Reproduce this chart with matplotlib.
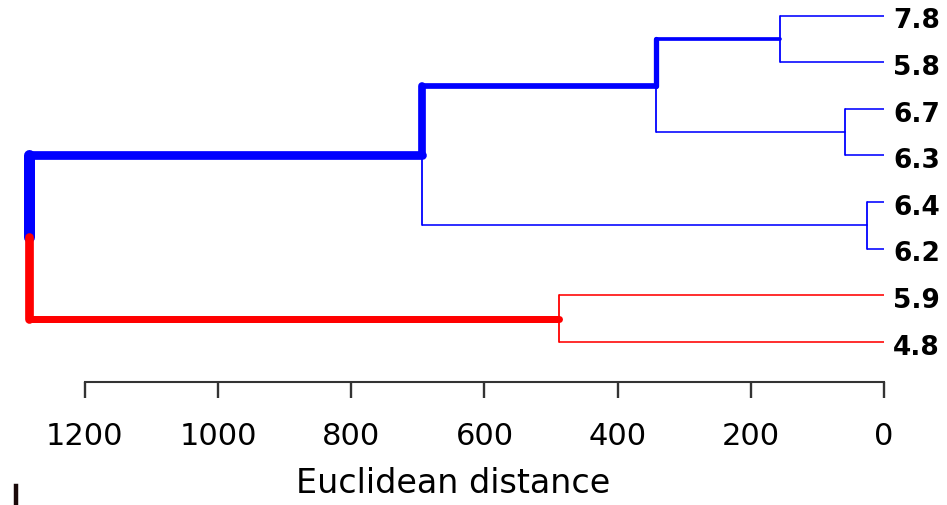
import matplotlib
matplotlib.use('Agg')
import matplotlib.pyplot as plt
from matplotlib.lines import Line2D

plt.rcParams['font.family'] = 'DejaVu Sans'

# leaves, top to bottom
leaf_labels = ['7.8', '5.8', '6.7', '6.3', '6.4', '6.2', '5.9', '4.8']

# R-style merge table: negative = leaf (1-based), positive = earlier merge
merge_left = [-1, -3, -5, 1, 4, -7, 5]
merge_right = [-2, -4, -6, 2, 3, -8, 6]
merge_height = [156, 58, 26, 343, 694, 488, 1284]

xticks = [0, 200, 400, 600, 800, 1000, 1200]
xlabel = 'Euclidean distance'

# cluster colours: every edge below these merges gets the colour
cluster_colour = {5: '#0000ff', 6: '#ff0000'}

# highlighted edges (child merge -> (vertical px, horizontal px))
px = 0.72
thick = {5: (11, 8.7), 6: (8.7, 7.0), 4: (7.7, 5.7), 1: (5.3, 3.7)}
thin = (1.8, 1.6)

# ---------- node positions ----------
node_x = {}
node_y = {}
for i in range(len(leaf_labels)):
    node_x[-(i + 1)] = 0.0
    node_y[-(i + 1)] = float(i)
for m, (l, r, h) in enumerate(zip(merge_left, merge_right, merge_height), start=1):
    node_x[m] = h
    node_y[m] = (node_y[l] + node_y[r]) / 2.0

# colour of every node
node_col = {}
def paint(node, col):
    node_col[node] = col
    if node > 0:
        paint(merge_left[node - 1], col)
        paint(merge_right[node - 1], col)
for m, c in cluster_colour.items():
    paint(m, c)

fig = plt.figure(figsize=(9.47, 5.06), dpi=100)
ax = fig.add_axes([0, 0, 1, 1])
ax.set_xlim(1327.5, -94.6)
ax.set_ylim(10.5, -0.358)

# draw edges parent -> child
for m, (l, r) in enumerate(zip(merge_left, merge_right), start=1):
    px_, py = node_x[m], node_y[m]
    for c in (l, r):
        col = node_col[c]
        wv, wh = thick.get(c, thin)
        ax.plot([px_, px_], [py, node_y[c]], color=col, lw=wv * px,
                solid_capstyle='round', zorder=3 if c in thick else 2)
        ax.plot([px_, node_x[c]], [node_y[c], node_y[c]], color=col, lw=wh * px,
                solid_capstyle='round' if c in thick else 'butt',
                zorder=3 if c in thick else 2)

# leaf labels
for i, lab in enumerate(leaf_labels):
    ax.annotate(lab, xy=(0, i), xytext=(6.5, -8.4), textcoords='offset points',
                ha='left', va='baseline', fontsize=19, fontweight='bold')

# axis
for s in ['left', 'right', 'top']:
    ax.spines[s].set_visible(False)
ax.spines['bottom'].set_position(('data', 7.86))
ax.spines['bottom'].set_bounds(0, 1200)
ax.spines['bottom'].set_linewidth(1.5)
ax.spines['bottom'].set_color('#333333')
ax.set_yticks([])
ax.set_xticks(xticks)
ax.tick_params(axis='x', direction='out', length=11.5, width=1.7, color='#333333',
               pad=16.5, labelsize=22)
ax.set_xlabel(xlabel, fontsize=24)
ax.xaxis.label.set_va('baseline')
ax.xaxis.set_label_coords(453 / 947, 1 - 493 / 506)

# stray mark at lower left edge (top of a cropped glyph)
fig.add_artist(Line2D([15.8 / 947, 15.8 / 947], [1 - 487 / 506, 0],
                      transform=fig.transFigure, color='#1a0a0a', lw=3.2))

fig.savefig('out.png', dpi=100)
